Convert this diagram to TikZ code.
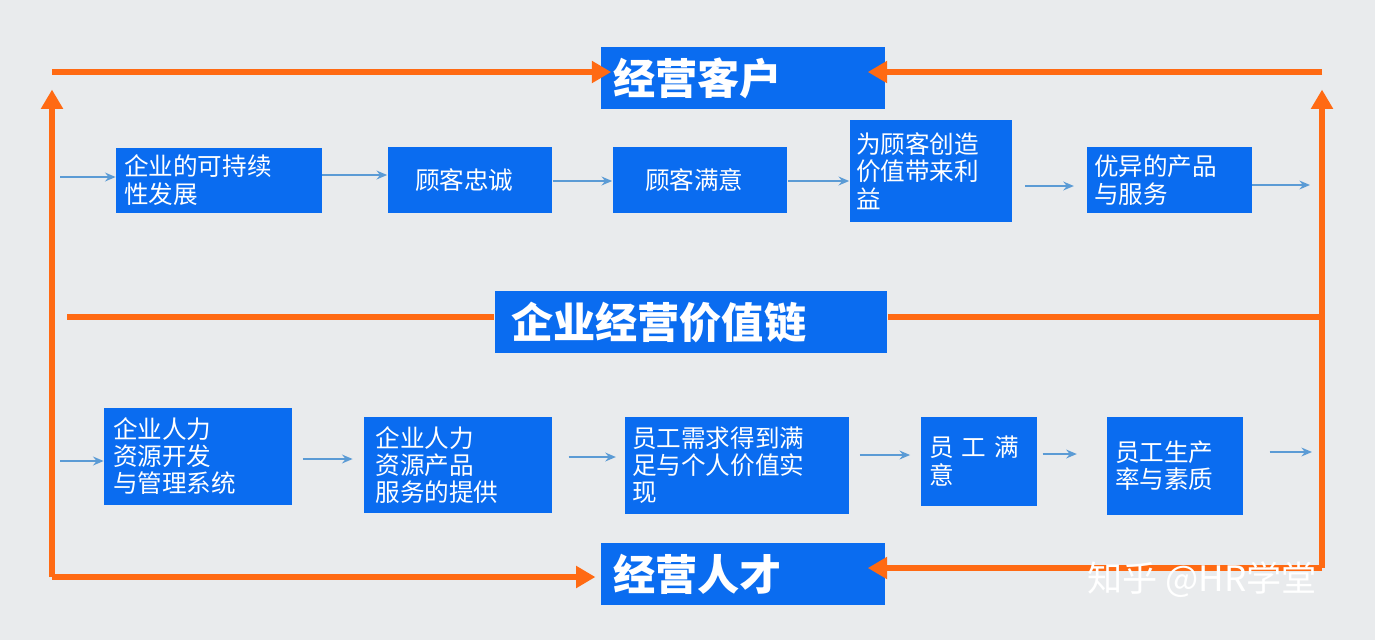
\documentclass[tikz,border=0pt]{standalone}
\usepackage{fontspec}
\setmainfont{Noto Sans CJK SC}
\usetikzlibrary{arrows.meta}
\definecolor{boxblue}{HTML}{0A6CF0}
\definecolor{flowor}{HTML}{FF6A13}
\definecolor{smallar}{HTML}{5B9BD5}
\definecolor{bggray}{HTML}{E9EBED}
\tikzset{
  box/.style={fill=boxblue, text=white, inner sep=0pt, align=left, font=\fontsize{14}{15.5}\selectfont},
  title/.style={fill=boxblue, text=white, inner sep=0pt, align=left, font=\fontsize{24}{26}\selectfont\bfseries},
  stepar/.style={-{Stealth[length=6pt,width=5pt]}, smallar, line width=1.5pt},
  loopline/.style={flowor, line width=3.4pt},
  looptip/.style={loopline, -{Triangle[length=11pt,width=12pt]}}
}
\begin{document}
\begin{tikzpicture}[x=0.02cm, y=-0.02cm]
\fill[bggray] (0,0) rectangle (1375,640);

% titles
\node[title, minimum width=5.68cm, minimum height=1.24cm, text width=5.2cm] (cust) at (743,78) {经营客户};
\node[title, minimum width=7.86cm, minimum height=1.24cm, text width=7.2cm] (chain) at (691,322) {企业经营价值链};
\node[title, minimum width=5.68cm, minimum height=1.24cm, text width=5.2cm] (talent) at (743,574) {经营人才};

% customer row
\node[box, minimum width=4.12cm, minimum height=1.3cm, text width=3.8cm] (c1) at (219,180) {企业的可持续\\性发展};
\node[box, minimum width=3.3cm, minimum height=1.32cm, text width=2.2cm] (c2) at (470,180) {顾客忠诚};
\node[box, minimum width=3.5cm, minimum height=1.32cm, text width=2.2cm] (c3) at (700,180) {顾客满意};
\node[box, minimum width=3.26cm, minimum height=2.06cm, text width=3cm] (c4) at (931,171) {为顾客创造\\价值带来利\\益};
\node[box, minimum width=3.3cm, minimum height=1.32cm, text width=3cm] (c5) at (1169,180) {优异的产品\\与服务};
\coordinate (cin) at (60,177);
\coordinate (cout) at (1310,185);

% talent row
\node[box, minimum width=3.76cm, minimum height=1.94cm, text width=3.4cm] (t1) at (198,456) {企业人力\\资源开发\\与管理系统};
\node[box, minimum width=3.78cm, minimum height=1.92cm, text width=3.3cm] (t2) at (458,465) {企业人力\\资源产品\\服务的提供};
\node[box, minimum width=4.48cm, minimum height=1.94cm, text width=4.2cm] (t3) at (737,465) {员工需求得到满\\足与个人价值实\\现};
\node[box, minimum width=2.32cm, minimum height=1.78cm, text width=2.0cm] (t4) at (979,461) {员\ 工\ 满\\意};
\node[box, minimum width=2.72cm, minimum height=1.96cm, text width=2.4cm] (t5) at (1175,466) {员工生产\\率与素质};
\coordinate (tin) at (60,461);
\coordinate (tout) at (1312,452);

% small arrows
\draw[stepar] (cin) -- (c1.west |- cin);
\draw[stepar] (c1.east |- 0,175) -- (c2.west |- 0,175);
\draw[stepar] (c2.east |- 0,181) -- (c3.west |- 0,181);
\draw[stepar] (c3.east |- 0,181) -- (c4.west |- 0,181);
\draw[stepar] ([xshift=7]c4.east |- 0,186) -- ([xshift=-7]c5.west |- 0,186);
\draw[stepar] (c5.east |- cout) -- (cout);
\draw[stepar] (tin) -- (t1.west |- tin);
\draw[stepar] ([xshift=6]t1.east |- 0,459) -- ([xshift=-6]t2.west |- 0,459);
\draw[stepar] ([xshift=9]t2.east |- 0,457) -- ([xshift=-5]t3.west |- 0,457);
\draw[stepar] ([xshift=6]t3.east |- 0,455) -- ([xshift=-6]t4.west |- 0,455);
\draw[stepar] ([xshift=3]t4.east |- 0,454) -- ([xshift=-17]t5.west |- 0,454);
\draw[stepar] ([xshift=15]t5.east |- tout) -- (tout);

% orange loop
\coordinate (tl) at (52,72);
\coordinate (bl) at (52,577);
\coordinate (tr) at (1322,72);
\coordinate (br) at (1322,568);
\draw[looptip] (bl) -- ([yshift=-10]tl);
\draw[looptip] (tl) -- ([xshift=6]cust.west |- tl);
\draw[looptip] (tr) -- ([xshift=-10]cust.east |- tr);
\draw[looptip] (br) -- ([yshift=-10]tr);
\draw[looptip] (bl) -- ([xshift=-3]talent.west |- bl);
\draw[looptip] (br) -- ([xshift=-10]talent.east |- br);
\draw[loopline] (67,317) -- (chain.west |- 0,317);
\draw[loopline] (chain.east |- 0,317) -- (1322,317);

\node[text=white, font=\fontsize{20}{22}\selectfont] (mark) at (1202,580) {知乎 @HR学堂};
\end{tikzpicture}
\end{document}
